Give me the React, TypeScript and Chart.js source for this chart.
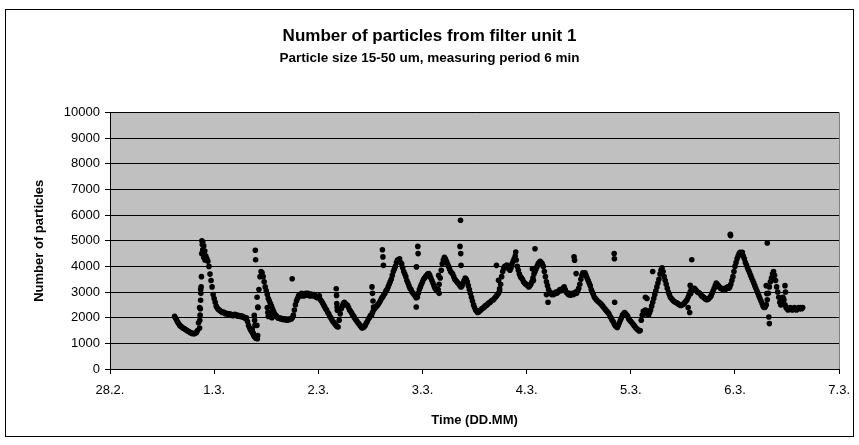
import React, { useEffect, useRef } from "react";
import { Chart, registerables } from "chart.js";

Chart.register(...registerables);

const titleText = "Number of particles from filter unit 1";
const subtitleText = "Particle size 15-50 um, measuring period 6 min";
const xAxisTitle = "Time (DD.MM)";
const yAxisTitle = "Number of particles";

// x tick labels, one per day (day 0 = 28.2. 00:00)
const dayLabels = ["28.2.", "1.3.", "2.3.", "3.3.", "4.3.", "5.3.", "6.3.", "7.3."];

// readings every 0.01 day
const readingStepDays = 0.01;

const startFeb28 = 0.62;
const countsFeb28 = [
  2050, 1980, 1900, 1820, 1760, 1700, 1660, 1640, 1600, 1580,
  1560, 1520, 1500, 1470, 1450, 1420, 1400, 1380, 1390, 1370,
  1400, 1420, 1500, 1800, 2400, 3100, 4500, 4950, 4800, 4600,
  4400, 4300, 4200, 4000, 3700, 3450, 3200, 2900,
];

const startMar1 = 1;
const countsMar1 = [
  2750, 2600, 2450, 2380, 2320, 2300, 2260, 2230, 2200, 2220,
  2180, 2150, 2170, 2140, 2120, 2150, 2100, 2120, 2080, 2110,
  2130, 2090, 2100, 2060, 2080, 2050, 2070, 2030, 2040, 2000,
  1980, 2000, 1850, 1700, 1600, 1520, 1450, 1380, 1300, 1250,
  1200, 1700, 2400, 3100, 3600, 3800, 3750, 3600, 3400, 3200,
  3050, 2900, 2750, 2650, 2550, 2450, 2350, 2250, 2150, 2100,
  2050, 2000, 1980, 2000, 1950, 1970, 1930, 1960, 1920, 1950,
  1900, 1940, 1920, 1960, 1950, 2000, 2100, 2300, 2500, 2650,
  2750, 2850, 2900, 2850, 2950, 2900, 2850, 2900, 2950, 2880,
  2950, 2900, 2850, 2920, 2880, 2850, 2900, 2850, 2800, 2780,
];

const startMar2 = 2;
const countsMar2 = [
  2800, 2850, 2700, 2650, 2580, 2500, 2430, 2350, 2300, 2200,
  2150, 2050, 2000, 1920, 1850, 1800, 1750, 1700, 1660, 1640,
  1900, 2150, 2350, 2450, 2550, 2600, 2550, 2500, 2480, 2400,
  2300, 2250, 2180, 2100, 2050, 1980, 1920, 1860, 1800, 1760,
  1700, 1650, 1600, 1620, 1650, 1700, 1780, 1850, 1950, 2000,
  2080, 2100, 2200, 2300, 2350, 2400, 2450, 2500, 2550, 2620,
  2700, 2780, 2820, 2900, 2950, 3050, 3100, 3200, 3300, 3400,
  3500, 3650, 3800, 3900, 4000, 4150, 4250, 4200, 4300, 4150,
  4100, 3950, 3800, 3700, 3600, 3450, 3350, 3250, 3150, 3100,
  3000, 2950, 2900, 2850, 2780, 2800, 2950, 3100, 3200, 3300,
];

const startMar3 = 3;
const countsMar3 = [
  3400, 3500, 3550, 3600, 3650, 3700, 3720, 3650, 3550, 3450,
  3350, 3250, 3150, 3100, 3050, 3100, 3300, 3550, 3850, 4100,
  4250, 4350, 4300, 4200, 4100, 4000, 3900, 3800, 3750, 3700,
  3600, 3500, 3450, 3400, 3350, 3300, 3250, 3200, 3250, 3350,
  3450, 3550, 3500, 3400, 3250, 3100, 2950, 2800, 2650, 2500,
  2400, 2300, 2250, 2200, 2220, 2280, 2300, 2350, 2380, 2400,
  2450, 2480, 2500, 2550, 2580, 2600, 2650, 2680, 2700, 2750,
  2800, 2850, 2900, 2950, 3050, 3300, 3600, 3800, 3950, 4000,
  3950, 4050, 4000, 3900, 3850, 3950, 4100, 4200, 4300, 4400,
  4250, 4000, 3850, 3700, 3600, 3550, 3500, 3400, 3350, 3300,
];

const startMar4 = 4;
const countsMar4 = [
  3300, 3250, 3200, 3250, 3300, 3400, 3550, 3700, 3800, 3900,
  4000, 4100, 4150, 4200, 4150, 4100, 4000, 3800, 3600, 3400,
  3250, 3100, 3000, 2950, 2900, 2950, 2900, 2950, 3000, 2950,
  3000, 3050, 3100, 3050, 3100, 3150, 3200, 3100, 3000, 2950,
  2900, 2950, 2880, 2920, 2950, 2900, 2950, 3000, 2950, 3050,
  3150, 3300, 3500, 3650, 3750, 3700, 3750, 3650, 3550, 3450,
  3350, 3250, 3100, 3000, 2900, 2800, 2750, 2700, 2650, 2620,
  2580, 2550, 2500, 2450, 2400, 2350, 2300, 2250, 2200, 2150,
  2050, 2000, 1900, 1850, 1750, 1700, 1650, 1620, 1700, 1800,
  1900, 2000, 2100, 2150, 2200, 2150, 2100, 2050, 1950, 1900,
];

const startMar5 = 5;
const countsMar5 = [
  1850, 1800, 1750, 1700, 1650, 1600, 1560, 1520, 1480, 1500,
  1900, 2100, 2250, 2200, 2300, 2150, 2250, 2100, 2200, 2300,
  2450, 2600, 2750, 2900, 3050, 3200, 3350, 3500, 3700, 3850,
  3950, 3800, 3600, 3450, 3300, 3150, 3000, 2900, 2800, 2750,
  2700, 2650, 2620, 2600, 2580, 2550, 2520, 2500, 2480, 2500,
  2520, 2550, 2600, 2650, 2700, 2800, 2900, 3000, 3100, 3150,
  3100, 3150, 3100, 3050, 3000, 2980, 2950, 2900, 2850, 2820,
  2800, 2750, 2720, 2700, 2720, 2750, 2800, 2850, 2950, 3050,
  3150, 3250, 3350, 3300, 3250, 3200, 3150, 3150, 3100, 3120,
  3150, 3100, 3150, 3200, 3150, 3200, 3300, 3450, 3600, 3800,
];

const startMar6 = 6;
const countsMar6 = [
  4000, 4150, 4300, 4400, 4500, 4550, 4500, 4550, 4400, 4300,
  4150, 4050, 3950, 3850, 3750, 3650, 3550, 3450, 3350, 3250,
  3150, 3050, 2950, 2850, 2750, 2650, 2550, 2450, 2400, 2420,
  2500, 2700, 2950, 3200, 3400, 3550, 3700, 3800, 3650, 3450,
  3200, 3000, 2800, 2600, 2500, 2650, 2800, 2700, 2500, 2400,
  2350, 2300, 2350, 2400, 2350, 2300, 2350, 2400, 2350, 2300,
  2350, 2400, 2350, 2400, 2350, 2400,
];

// scattered single readings (spikes and outliers)
const scatterDays = [
  0.86, 0.862, 0.865, 0.867, 0.87, 0.872, 0.875, 0.878,
  0.882, 0.886, 0.89, 0.895, 0.9, 0.905, 0.912,
  1.365, 1.375, 1.385, 1.388, 1.392, 1.395, 1.398, 1.412, 1.415, 1.418, 1.42,
  1.51, 1.515, 1.52, 1.535, 1.54, 1.555, 1.749,
  2.172, 2.175, 2.177, 2.18, 2.182, 2.515, 2.52, 2.525, 2.53,
  2.615, 2.62, 2.625, 2.94, 2.942, 2.955, 2.958,
  3.155, 3.16, 3.365, 3.36, 3.367, 3.37, 3.71, 3.73, 3.74, 3.895,
  4.055, 4.065, 4.08, 4.19, 4.205, 4.455, 4.46, 4.475, 4.84, 4.842, 4.845,
  5.14, 5.155, 5.21, 5.55, 5.565, 5.585, 5.57, 5.575, 5.955, 5.957,
  6.31, 6.325, 6.33, 6.3, 6.305, 6.48, 6.485,
];
const scatterCounts = [
  1600, 1900, 2100, 2350, 2680, 2950, 3200, 3600,
  5000, 4850, 4650, 4500, 4350, 4550, 4250,
  1550, 1400, 2090, 1900, 1700, 4630, 4260, 2800, 1180, 1300, 2420,
  2400, 2200, 2050, 2200, 2050, 2000, 3520,
  3130, 2870, 2550, 2420, 2290, 3200, 2950, 2650, 2420,
  4650, 4370, 4040, 2420, 3980, 4780, 4500,
  3650, 2950, 5800, 4780, 4500, 4040, 4040, 3460, 3130, 4560,
  3900, 3450, 4690, 2900, 2600, 4370, 4240, 3720, 4500, 4300, 2600,
  2800, 2750, 3800, 2400, 2200, 4260, 3260, 2940, 5250, 5200,
  4910, 2030, 1770, 3250, 2940, 3250, 3000,
];

const segments = [
  { start: startFeb28, counts: countsFeb28 },
  { start: startMar1, counts: countsMar1 },
  { start: startMar2, counts: countsMar2 },
  { start: startMar3, counts: countsMar3 },
  { start: startMar4, counts: countsMar4 },
  { start: startMar5, counts: countsMar5 },
  { start: startMar6, counts: countsMar6 },
];

const FONT = "'Liberation Sans', Arial, sans-serif";

const frameAndArea = {
  id: "frameAndArea",
  beforeDraw(chart: any) {
    const { ctx, chartArea, width, height } = chart;
    ctx.save();
    ctx.fillStyle = "#ffffff";
    ctx.fillRect(0, 0, width, height);
    ctx.fillStyle = "#c0c0c0";
    ctx.fillRect(chartArea.left, chartArea.top, chartArea.right - chartArea.left, chartArea.bottom - chartArea.top);
    ctx.restore();
  },
  beforeDatasetsDraw(chart: any) {
    const { ctx, chartArea } = chart;
    ctx.save();
    ctx.strokeStyle = "#808080";
    ctx.lineWidth = 1;
    ctx.beginPath();
    ctx.moveTo(Math.round(chartArea.right) + 0.5, chartArea.top);
    ctx.lineTo(Math.round(chartArea.right) + 0.5, chartArea.bottom);
    ctx.stroke();
    ctx.restore();
  },
  afterDraw(chart: any) {
    const { ctx } = chart;
    ctx.save();
    ctx.strokeStyle = "#000000";
    ctx.lineWidth = 1;
    ctx.strokeRect(5.5, 9.5, 848, 427);
    ctx.restore();
  },
};

export default function App() {
  const canvasRef = useRef<HTMLCanvasElement | null>(null);

  useEffect(() => {
    if (!canvasRef.current) return;
    const points: { x: number; y: number }[] = [];
    segments.forEach((seg) => {
      seg.counts.forEach((c, i) => {
        points.push({ x: Number((seg.start + i * readingStepDays).toFixed(3)), y: c });
      });
    });
    scatterDays.forEach((d, i) => points.push({ x: d, y: scatterCounts[i] }));

    const chart = new Chart(canvasRef.current, {
      type: "scatter",
      data: {
        datasets: [
          {
            label: "Particles",
            data: points,
            backgroundColor: "#000000",
            borderColor: "#000000",
            borderWidth: 0,
            pointRadius: 2.8,
            pointHoverRadius: 2.8,
          },
        ],
      },
      plugins: [frameAndArea],
      options: {
        responsive: false,
        animation: false,
        events: [],
        layout: { padding: { top: 16, left: 0, right: 0, bottom: 0 } },
        plugins: {
          legend: { display: false },
          tooltip: { enabled: false },
          title: {
            display: true,
            text: titleText,
            color: "#000",
            font: { family: FONT, size: 17, weight: "bold" },
            padding: { top: 10, bottom: 2 },
          },
          subtitle: {
            display: true,
            text: subtitleText,
            color: "#000",
            font: { family: FONT, size: 13.5, weight: "bold" },
            padding: { top: 1.5, bottom: 46.4 },
          },
        },
        scales: {
          x: {
            type: "linear",
            min: 0,
            max: 7,
            ticks: {
              stepSize: 1,
              autoSkip: false,
              maxRotation: 0,
              color: "#000",
              font: { family: FONT, size: 13 },
              padding: 9,
              callback: (v: any) => dayLabels[Math.round(Number(v))] ?? "",
            },
            grid: { drawOnChartArea: false, drawTicks: true, tickLength: 5, tickColor: "#000", color: "#000" },
            border: { display: true, color: "#000", width: 1 },
            title: {
              display: true,
              text: xAxisTitle,
              color: "#000",
              font: { family: FONT, size: 13, weight: "bold" },
              padding: { top: 4, bottom: 17 },
            },
            afterFit: (s: any) => {
              s.height = 76;
            },
          },
          y: {
            min: 0,
            max: 10000,
            ticks: {
              stepSize: 1000,
              color: "#000",
              font: { family: FONT, size: 13 },
              padding: 5,
              callback: (v: any) => String(v),
            },
            grid: { color: "#000", lineWidth: 1, drawTicks: true, tickLength: 5, tickColor: "#000" },
            border: { display: true, color: "#000", width: 1 },
            title: {
              display: true,
              text: yAxisTitle,
              color: "#000",
              font: { family: FONT, size: 13, weight: "bold" },
              padding: { top: 32, bottom: 0 },
            },
            afterFit: (s: any) => {
              s.width = 110;
            },
          },
          yRightSpace: {
            position: "right",
            display: true,
            min: 0,
            max: 1,
            grid: { display: false, drawTicks: false },
            ticks: { display: false },
            border: { display: false },
            afterFit: (s: any) => {
              s.width = 17;
            },
          },
        },
      },
    } as any);
    return () => chart.destroy();
  }, []);

  return (
    <div style={{ position: "fixed", left: 0, top: 0, width: 859, height: 445, background: "#fff" }}>
      <canvas ref={canvasRef} width={859} height={445} style={{ display: "block", width: 859, height: 445 }} />
    </div>
  );
}
